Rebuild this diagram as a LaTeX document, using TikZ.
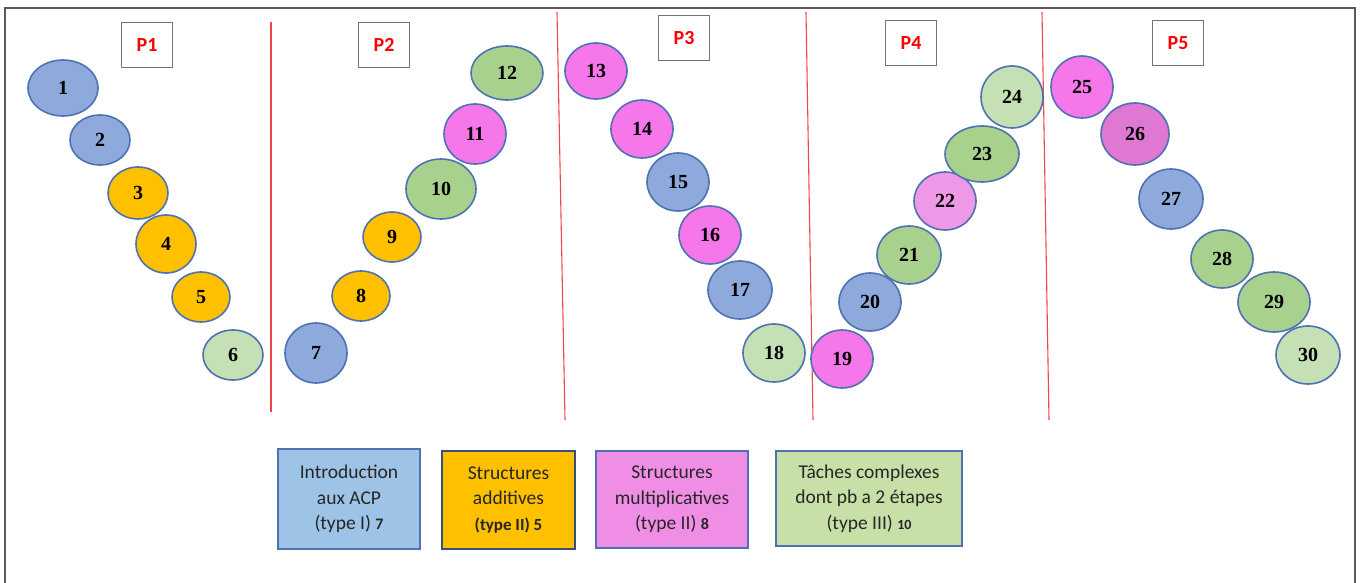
\documentclass[tikz,border=0pt]{standalone}
\usepackage{fontspec}
\setmainfont{Liberation Serif}
\newfontfamily\calib{Carlito}
\usetikzlibrary{shapes.geometric}
\definecolor{eblue}{HTML}{8EA9DB}
\definecolor{eorange}{HTML}{FFC000}
\definecolor{epink}{HTML}{F577EA}
\definecolor{epinkl}{HTML}{EE98E8}
\definecolor{epinkd}{HTML}{DE78D2}
\definecolor{egreen}{HTML}{A9D18E}
\definecolor{egreenl}{HTML}{C5E0B4}
\definecolor{eborder}{HTML}{4F72B0}
\definecolor{lblue}{HTML}{9DC3E6}
\definecolor{lpink}{HTML}{F08EE6}
\definecolor{lgreen}{HTML}{C6E0A8}
\definecolor{frame}{HTML}{5A5A5A}
\definecolor{pred}{HTML}{FF0000}
\definecolor{rline}{HTML}{F04848}
\tikzset{
  ell/.style={ellipse, draw=eborder, line width=1.6pt, inner sep=0pt,
    font=\fontsize{20}{20}\selectfont\bfseries},
  pbox/.style={draw=gray!90!black, line width=1.3pt, fill=white, minimum width=51pt, minimum height=45pt,
    inner sep=0pt, text=pred, font=\calib\fontsize{20}{20}\selectfont\bfseries},
  legbox/.style={draw=eborder, line width=1.5pt, inner sep=0pt, align=center,
    font=\calib\fontsize{19.5}{25.5}\selectfont, text=black!85},
  sep/.style={draw=rline, line width=1.1pt}
}
\newcommand\El[7]{\node[ell, fill=#6, minimum width=#4pt, minimum height=#5pt] (#1) at (#2,#3) {#7};}
\begin{document}
\begin{tikzpicture}[x=1pt,y=-1pt]
\useasboundingbox (0,0) rectangle (1363,583);
\fill[white] (0,0) rectangle (1363,583);
% frame
\coordinate (fbl) at (5,590);
\coordinate (ftl) at (5,8);
\coordinate (ftr) at (1355,8);
\coordinate (fbr) at (1355,590);
\draw[frame, line width=2pt] (fbl) -- (ftl) -- (ftr) -- (fbr);
% separators
\coordinate (s1a) at (271,22); \coordinate (s1b) at (271,412);
\coordinate (s2a) at (557,12); \coordinate (s2b) at (565,420);
\coordinate (s3a) at (806,12); \coordinate (s3b) at (813,420);
\coordinate (s4a) at (1042,12); \coordinate (s4b) at (1049,420);
\draw[sep] (s1a) -- (s1b);
\draw[sep] (s2a) -- (s2b);
\draw[sep] (s3a) -- (s3b);
\draw[sep] (s4a) -- (s4b);
% period labels
\node[pbox] (p1) at (147,45) {P1};
\node[pbox] (p2) at (384,45) {P2};
\node[pbox] (p3) at (684,38) {P3};
\node[pbox] (p4) at (911,43) {P4};
\node[pbox] (p5) at (1178,43) {P5};
% ellipses
\El{n1}{63}{88}{70}{56}{eblue}{1}
\El{n2}{100}{140}{60}{50}{eblue}{2}
\El{n3}{138}{193}{60}{52}{eorange}{3}
\El{n4}{166}{244}{60}{58}{eorange}{4}
\El{n5}{201}{297}{58}{50}{eorange}{5}
\El{n6}{233}{355}{60}{50}{egreenl}{6}
\El{n7}{316}{353}{62}{60}{eblue}{7}
\El{n8}{361}{296}{58}{50}{eorange}{8}
\El{n9}{392}{237}{58}{50}{eorange}{9}
\El{n10}{441}{189}{70}{60}{egreen}{10}
\El{n11}{475}{134}{62}{60}{epink}{11}
\El{n12}{507}{73}{72}{54}{egreen}{12}
\El{n13}{596}{71}{62}{56}{epink}{13}
\El{n14}{642}{129}{62}{58}{epink}{14}
\El{n15}{678}{182}{62}{58}{eblue}{15}
\El{n16}{710}{235}{62}{58}{epink}{16}
\El{n17}{740}{290}{64}{58}{eblue}{17}
\El{n18}{774}{353}{62}{58}{egreenl}{18}
\El{n19}{842}{359}{62}{58}{epink}{19}
\El{n20}{870}{302}{62}{58}{eblue}{20}
\El{n21}{909}{255}{64}{58}{egreen}{21}
\El{n22}{945}{201}{62}{58}{epinkl}{22}
\El{n23}{982}{154}{74}{56}{egreen}{23}
\El{n24}{1012}{97}{62}{62}{egreenl}{24}
\El{n25}{1082}{87}{62}{62}{epink}{25}
\El{n26}{1135}{134}{68}{62}{epinkd}{26}
\El{n27}{1171}{199}{64}{60}{eblue}{27}
\El{n28}{1222}{259}{62}{58}{egreen}{28}
\El{n29}{1274}{302}{72}{60}{egreen}{29}
\El{n30}{1308}{355}{64}{58}{egreenl}{30}
% legend
\node[legbox, fill=lblue, minimum width=142pt, minimum height=100pt] (l1) at (349,499)
  {Introduction\\aux ACP\\(type I) {\bfseries\fontsize{16}{16}\selectfont 7}};
\node[legbox, fill=eorange, draw=eborder!70!black, minimum width=133pt, minimum height=98pt] (l2) at (508.5,500)
  {Structures\\additives\\{\bfseries\fontsize{17}{17}\selectfont (type II) 5}};
\node[legbox, fill=lpink, minimum width=152pt, minimum height=97pt] (l3) at (672,499.5)
  {Structures\\multiplicatives\\(type II) {\bfseries\fontsize{16}{16}\selectfont 8}};
\node[legbox, fill=lgreen, minimum width=186pt, minimum height=95pt] (l4) at (869,498.5)
  {Tâches complexes\\dont pb a 2 étapes\\(type III) {\bfseries\fontsize{14}{14}\selectfont 10}};
\end{tikzpicture}
\end{document}
